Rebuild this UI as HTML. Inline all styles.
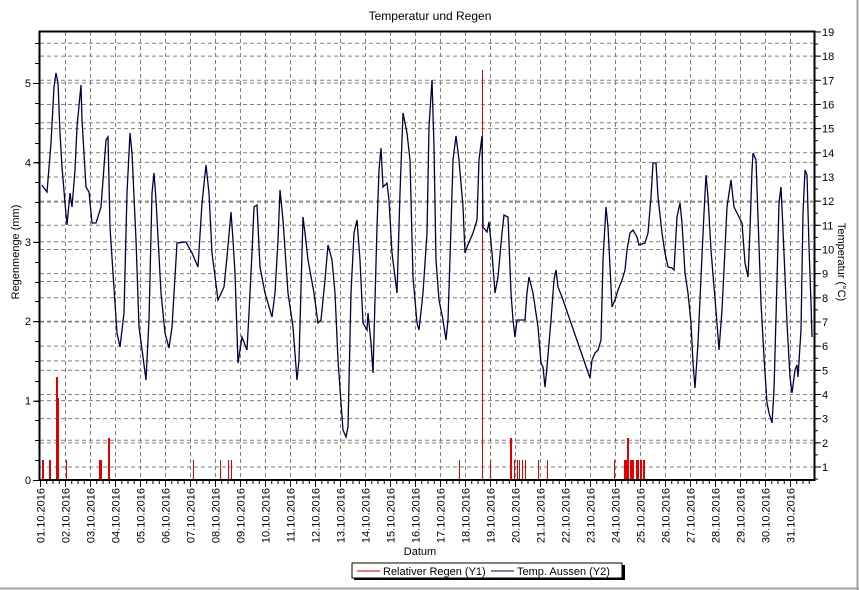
<!DOCTYPE html>
<html><head><meta charset="utf-8"><style>
html,body{margin:0;padding:0;background:#fff}
svg{display:block;font-family:"Liberation Sans",sans-serif}
</style></head><body>
<svg id="s" width="859" height="590" viewBox="0 0 859 590" xmlns="http://www.w3.org/2000/svg">
<rect x="0" y="0" width="859" height="590" fill="#fff"/>
<line x1="0" y1="588.5" x2="859" y2="588.5" stroke="#a0a0a0" stroke-width="2"/>
<line x1="857.5" y1="0" x2="857.5" y2="590" stroke="#a0a0a0" stroke-width="2"/>
<text x="430" y="20" font-size="12" text-anchor="middle">Temperatur und Regen</text>
<g id="grid" stroke="#808080" stroke-width="1" stroke-dasharray="4,3"></g>
<g id="rain" fill="#e00000"></g>
<polyline id="temp" fill="none" stroke="#000040" stroke-width="1.3" points=""/>
<rect x="39.5" y="31.5" width="775" height="448.5" fill="none" stroke="#000" stroke-width="2"/>
<g id="ticks" stroke="#000" stroke-width="1"></g>
<g id="labels" font-size="11" fill="#000"></g>
<text transform="translate(19,252) rotate(-90)" font-size="11" text-anchor="middle">Regenmenge (mm)</text>
<text transform="translate(838,262) rotate(90)" font-size="11" text-anchor="middle">Temperatur (°C)</text>
<text x="420" y="555" font-size="11" text-anchor="middle">Datum</text>
<rect x="354" y="565" width="271" height="15" fill="#000"/>
<rect x="352" y="563" width="270" height="15" fill="#fff" stroke="#000" stroke-width="1"/>
<line x1="357" y1="571" x2="380" y2="571" stroke="#c00000" stroke-width="1"/>
<text x="383" y="575" font-size="11">Relativer Regen (Y1)</text>
<line x1="491" y1="571" x2="514" y2="571" stroke="#000040" stroke-width="1"/>
<text x="517" y="575" font-size="11">Temp. Aussen (Y2)</text>
</svg>
<script>
var NS="http://www.w3.org/2000/svg";
function el(p,t,a){var e=document.createElementNS(NS,t);for(var k in a)e.setAttribute(k,a[k]);p.appendChild(e);return e;}
var g=document.getElementById('grid'),tk=document.getElementById('ticks'),lb=document.getElementById('labels');
// vertical grid
for(var d=1;d<31;d++){var x=40+d*25+0.5;el(g,'line',{x1:x,y1:32,x2:x,y2:479});}
for(var d=0;d<31;d++){var x=40+d*25+0.5;el(tk,'line',{x1:x,y1:480,x2:x,y2:487});
 var t=el(lb,'text',{transform:'translate('+(x+4)+',488) rotate(-90)','text-anchor':'end','font-size':'11'});
 t.textContent=(d+1<10?'0':'')+(d+1)+'.10.2016';}
for(var x=40;x<814;x+=6.25){el(tk,'line',{x1:x+0.5,y1:480,x2:x+0.5,y2:484});}
// left grid (every 0.5mm)
for(var v=0.5;v<=5.6;v+=0.5){var y=480-v*79.4;el(g,'line',{x1:40,y1:y,x2:813,y2:y});}
for(var v=0;v<=5.6;v+=0.25){var y=Math.round(480-v*79.4)+0.5;el(tk,'line',{x1:35,y1:y,x2:39,y2:y});}
for(var v=0;v<=5;v++){var y=480-v*79.4;el(tk,'line',{x1:33,y1:y+0.5,x2:39,y2:y+0.5});
 var t=el(lb,'text',{x:31,y:y+4,'text-anchor':'end'});t.textContent=v;}
// right grid (every degree)
for(var T=1;T<=19;T++){var y=467-(T-1)*24.17;el(g,'line',{x1:40,y1:y,x2:813,y2:y});
 el(tk,'line',{x1:815,y1:y,x2:821,y2:y});var t=el(lb,'text',{x:822,y:y+4});t.textContent=T;}
for(var T=0.5;T<=19;T+=0.5){var y=467-(T-1)*24.17;el(tk,'line',{x1:815,y1:y,x2:818,y2:y});}
// rain
var r=document.getElementById('rain');
var bars=[[42,2,460],[49,2,460],[56,2,377],[58,1,398],[66,1,460],[99,3,460],[108,2,438],[193,1,460],[220,1,460],[228,1,460],[231,1,460],[459,1,460],[482,1,70],[490,1,460],[510,2,438],[514,1,460],[517,1,460],[519,1,460],[522,1,460],[525,1,460],[538,1,460],[547,1,460],[614,1,460],[624,4,460],[627,2,438],[630,4,460],[636,3,460],[640,2,460],[643,2,460]];
bars.forEach(function(b){el(r,'rect',{x:b[0],y:b[2],width:b[1],height:480-b[2]});});
var pts=[[42,185],[44,188],[47,192],[51,143],[54,87],[56,73],[58,83],[60,133],[62,167],[65,203],[67,225],[70,193],[72,207],[75,170],[77,127],[81,85],[82,120],[86,187],[89,192],[92,223],[96,223],[101,207],[106,140],[108,137],[110,227],[113,273],[117,333],[120,347],[124,313],[127,193],[130,133],[132,153],[136,240],[139,327],[143,357],[146,380],[149,320],[152,193],[154,173],[156,200],[161,293],[165,333],[169,348],[172,327],[176,260],[177,243],[186,242],[192,253],[198,267],[202,203],[206,165],[209,193],[212,253],[218,300],[224,287],[227,257],[231,212],[233,240],[235,273],[238,363],[242,337],[247,350],[249,313],[252,253],[254,207],[257,205],[260,267],[265,293],[272,317],[275,293],[278,240],[280,190],[283,220],[288,293],[293,327],[297,380],[299,360],[302,253],[303,217],[305,233],[308,260],[314,293],[318,323],[321,320],[325,280],[328,245],[332,260],[335,293],[338,360],[341,403],[343,430],[346,437],[348,427],[351,293],[354,233],[357,220],[360,260],[363,323],[367,330],[368,313],[371,343],[373,373],[377,227],[379,170],[381,148],[383,187],[387,183],[389,200],[392,253],[395,277],[397,293],[400,193],[403,113],[407,133],[410,160],[413,277],[417,323],[419,330],[423,293],[427,233],[429,127],[432,80],[434,147],[436,260],[439,300],[443,320],[446,340],[448,320],[451,227],[453,160],[456,136],[459,160],[463,207],[465,253],[467,247],[470,240],[473,233],[477,220],[479,160],[482,136],[483,227],[487,232],[489,222],[492,253],[495,293],[498,277],[502,233],[504,215],[508,217],[511,293],[513,320],[515,337],[517,320],[522,320],[525,320],[527,293],[529,277],[533,293],[538,327],[541,363],[543,367],[545,387],[547,367],[551,320],[554,280],[556,270],[558,287],[562,297],[590,378],[592,360],[595,353],[598,350],[601,340],[603,260],[606,207],[608,227],[612,307],[615,300],[618,290],[622,280],[625,270],[627,250],[630,233],[633,230],[637,237],[639,245],[645,243],[648,233],[651,197],[653,163],[656,163],[658,197],[662,233],[665,253],[668,267],[672,268],[674,270],[677,217],[680,203],[682,223],[685,273],[688,293],[691,323],[693,363],[695,388],[698,343],[701,277],[704,213],[706,175],[708,197],[711,250],[714,287],[717,323],[719,350],[722,310],[724,270],[727,207],[731,180],[734,207],[738,215],[742,223],[745,263],[748,277],[750,230],[752,170],[753,153],[756,160],[758,217],[761,303],[764,357],[767,403],[769,413],[772,423],[774,390],[777,280],[779,203],[781,187],[783,230],[787,323],[790,377],[792,393],[795,370],[797,365],[798,377],[801,330],[803,213],[805,170],[807,175],[809,247],[811,303],[812,337]];
document.getElementById('temp').setAttribute('points',pts.map(function(p){return p.join(',');}).join(' '));
</script>
</body></html>
